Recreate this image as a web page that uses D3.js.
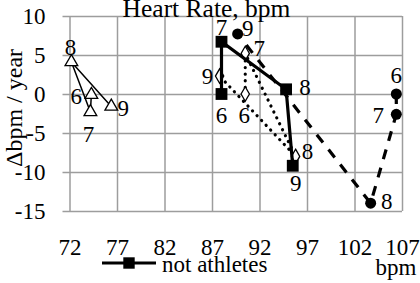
<!DOCTYPE html>
<html>
<head>
<meta charset="utf-8">
<script src="https://d3js.org/d3.v7.min.js"></script>
<style>
  body { margin: 0; background: #fff; }
  svg text { font-family: 'Liberation Serif', 'Times New Roman', Times, serif; fill: #000; }
</style>
</head>
<body>
<div id="chart"></div>
<script>
var width = 420, height = 283;
var margin = {top: 16, right: 18, bottom: 72, left: 69.5};
var serif = "'Liberation Serif', 'Times New Roman', Times, serif";

// ages at each point, same order for every group
var ages = [6, 7, 8, 9];

// x = heart rate (bpm), y = change (bpm / year)
var triBpm = [74.3, 74.2, 72.2, 76.4];
var triDelta = [-0.1, -2.3, 4.1, -1.6];

var sqBpm = [88.0, 88.0, 94.8, 95.5];
var sqDelta = [0.0, 6.7, 0.6, -9.2];

var diaBpm = [90.5, 90.5, 95.8, 87.8];
var diaDelta = [0.0, 5.2, -8.0, 2.3];

var cirBpm = [106.4, 106.4, 103.7, 89.7];
var cirDelta = [0.0, -2.6, -14.0, 7.7];

var xTicks = [72, 77, 82, 87, 92, 97, 102, 107];
var yTicks = [-15, -10, -5, 0, 5, 10];

// where each age label sits next to its marker (pixels)
var triLab = [[-15, 1], [-2, 22], [-1, -15], [12, 1]];
var sqLab = [[0, 21], [0, -15], [19, -2], [3, 17]];
var diaLab = [[-1, 21], [14, -5], [12, -5], [-12, 0]];
var cirLab = [[0, -19], [-18, 1], [16, -2], [10, -6]];

var svg = d3.select('#chart').append('svg')
    .attr('width', width)
    .attr('height', height)
    .attr('font-family', serif);

var x = d3.scaleLinear().domain([72, 107]).range([margin.left, width - margin.right]);
var y = d3.scaleLinear().domain([-15, 10]).range([height - margin.bottom, margin.top]);

var pw = x.range()[1] - x.range()[0];
var ph = y.range()[0] - y.range()[1];

// y gridlines + labels
svg.append('g')
    .attr('transform', 'translate(' + x.range()[1] + ',0)')
    .call(d3.axisLeft(y).tickValues(yTicks).tickFormat(d => String(d)).tickSize(pw + 7).tickPadding(17))
    .attr('font-family', serif).attr('font-size', 23)
    .call(g => g.select('.domain').remove())
    .call(g => g.selectAll('line').attr('stroke', '#9d9d9d').attr('stroke-width', 1.5));

// x gridlines + labels
svg.append('g')
    .attr('transform', 'translate(0,' + y.range()[0] + ')')
    .call(d3.axisBottom(x).tickValues(xTicks).tickFormat(d => String(d)).tickSize(-ph).tickPadding(28))
    .attr('font-family', serif).attr('font-size', 23)
    .call(g => g.select('.domain').remove())
    .call(g => g.selectAll('line').attr('stroke', '#9d9d9d').attr('stroke-width', 1.5));

function series(bpm, delta) {
    return ages.map((a, i) => ({age: a, bx: bpm[i], dy: delta[i]}));
}

var line = d3.line().x(d => x(d.bx)).y(d => y(d.dy));

function drawSeries(data, lineStyle, marker, labs) {
    var g = svg.append('g');
    var p = g.append('path')
        .datum(data)
        .attr('d', line)
        .attr('fill', 'none')
        .attr('stroke', '#000')
        .attr('stroke-width', lineStyle.w);
    if (lineStyle.dash) p.attr('stroke-dasharray', lineStyle.dash);
    if (lineStyle.cap) p.attr('stroke-linecap', lineStyle.cap);

    g.selectAll('.m').data(data).enter()
        .append('path')
        .attr('class', 'm')
        .attr('transform', d => 'translate(' + x(d.bx) + ',' + y(d.dy) + ')')
        .attr('d', d3.symbol().type(marker.type).size(marker.size))
        .attr('fill', marker.fill)
        .attr('stroke', '#000')
        .attr('stroke-width', marker.sw);

    g.selectAll('.lab').data(data).enter()
        .append('text')
        .attr('class', 'lab')
        .attr('x', (d, i) => x(d.bx) + labs[i][0])
        .attr('y', (d, i) => y(d.dy) + labs[i][1])
        .attr('text-anchor', 'middle')
        .attr('dy', '0.35em')
        .attr('font-size', 23)
        .text(d => d.age);
}

drawSeries(series(triBpm, triDelta), {w: 1.5},
    {type: d3.symbolTriangle, size: 70, fill: '#fff', sw: 1.3}, triLab);
drawSeries(series(diaBpm, diaDelta), {w: 3.2, dash: '0.1 6.5', cap: 'round'},
    {type: d3.symbolDiamond, size: 60, fill: '#fff', sw: 1.3}, diaLab);
drawSeries(series(sqBpm, sqDelta), {w: 3.2},
    {type: d3.symbolSquare, size: 140, fill: '#000', sw: 0}, sqLab);
drawSeries(series(cirBpm, cirDelta), {w: 3.2, dash: '10 9'},
    {type: d3.symbolCircle, size: 95, fill: '#000', sw: 0}, cirLab);

// title
svg.append('text')
    .attr('x', 206.5)
    .attr('y', 17)
    .attr('text-anchor', 'middle')
    .attr('font-size', 25.5)
    .text('Heart Rate, bpm');

// y axis title
svg.append('text')
    .attr('transform', 'translate(22,108) rotate(-90)')
    .attr('text-anchor', 'middle')
    .attr('font-size', 24)
    .text('\u0394bpm / year');

// x unit
svg.append('text')
    .attr('x', 396)
    .attr('y', 275)
    .attr('text-anchor', 'middle')
    .attr('font-size', 23)
    .text('bpm');

// legend (only "not athletes" visible)
var lg = svg.append('g').attr('transform', 'translate(102,263)');
lg.append('line').attr('x1', 0).attr('x2', 54).attr('y1', 0).attr('y2', 0)
    .attr('stroke', '#000').attr('stroke-width', 3.2);
lg.append('path').attr('transform', 'translate(27,0)')
    .attr('d', d3.symbol().type(d3.symbolSquare).size(130)).attr('fill', '#000');
lg.append('text').attr('x', 60).attr('y', 9).attr('font-size', 23).text('not athletes');
</script>
</body>
</html>
